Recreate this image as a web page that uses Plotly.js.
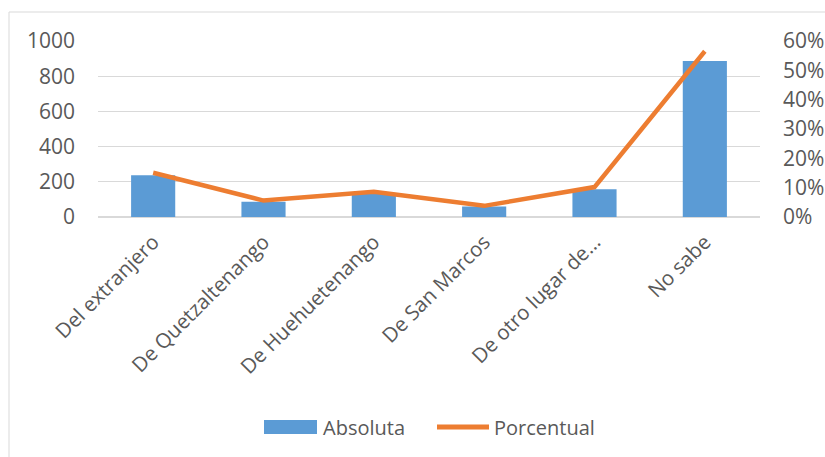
<!DOCTYPE html>
<html>
<head>
<meta charset="utf-8">
<script src="https://cdn.plot.ly/plotly-3.0.1.min.js"></script>
<style>html,body{margin:0;padding:0;background:#fff;}#chart{width:825px;height:457px;}</style>
</head>
<body>
<div id="chart"></div>
<script>
const categories = ["Del extranjero", "De Quetzaltenango", "De Huehuetenango", "De San Marcos", "De otro lugar de…", "No sabe"];
const absoluta = [237, 87, 135, 59, 157, 886];
const porcentual = [0.151, 0.056, 0.086, 0.038, 0.102, 0.565];
const seriesNames = ["Absoluta", "Porcentual"];
const leftTicks = [0, 200, 400, 600, 800, 1000];
const rightTicks = [0, 0.1, 0.2, 0.3, 0.4, 0.5, 0.6];

const font = "'Open Sans', 'DejaVu Sans', sans-serif";
const textColor = "#595959";
const blue = "#5b9bd5", orange = "#ed7d31";

const traces = [
  {
    type: "bar", name: seriesNames[0], x: categories, y: absoluta,
    marker: {color: blue}, width: 0.4, yaxis: "y"
  },
  {
    type: "scatter", mode: "lines", name: seriesNames[1], x: categories, y: porcentual,
    line: {color: orange, width: 4.5}, yaxis: "y2"
  }
];

const L = 98, R = 760, T = 41, B = 217;
const pw = R - L, ph = B - T;
const px = v => (v - L) / pw;
const py = v => (B - v) / ph;

const layout = {
  width: 825, height: 457,
  margin: {l: L, r: 825 - R, t: T, b: 457 - B, pad: 0},
  paper_bgcolor: "#fff", plot_bgcolor: "#fff",
  font: {family: font, color: textColor, size: 20},
  showlegend: false,
  xaxis: {
    type: "category", tickangle: -45, showgrid: false, zeroline: false,
    showline: false, ticks: "", ticklabelstandoff: 8,
    tickfont: {size: 20.5, color: textColor}
  },
  yaxis: {
    range: [0, 1000], tickvals: leftTicks,
    showgrid: true, gridcolor: "#d9d9d9", gridwidth: 1.3,
    zeroline: true, zerolinecolor: "#d9d9d9", zerolinewidth: 1.3,
    showline: false, ticks: "", ticklabelstandoff: 22,
    tickfont: {size: 21, color: textColor}
  },
  yaxis2: {
    overlaying: "y", side: "right", range: [0, 0.6],
    tickvals: rightTicks, tickformat: ".0%",
    showgrid: false, zeroline: false, showline: false, ticks: "",
    ticklabelstandoff: 22, tickfont: {size: 21, color: textColor}
  },
  shapes: [
    {
      type: "rect", xref: "paper", yref: "paper",
      x0: px(9), x1: px(840), y0: py(470), y1: py(12),
      line: {color: "#d9d9d9", width: 1}, fillcolor: "rgba(0,0,0,0)", layer: "below"
    },
    {
      type: "rect", xref: "paper", yref: "paper",
      x0: px(264), x1: px(317), y0: py(434), y1: py(420),
      line: {width: 0}, fillcolor: blue
    },
    {
      type: "line", xref: "paper", yref: "paper",
      x0: px(437), x1: px(489), y0: py(427), y1: py(427),
      line: {color: orange, width: 5}
    }
  ],
  annotations: [
    {
      xref: "paper", yref: "paper", x: px(321), y: py(427), xanchor: "left", yanchor: "middle",
      text: seriesNames[0], showarrow: false, font: {size: 20, color: textColor, family: font}
    },
    {
      xref: "paper", yref: "paper", x: px(492), y: py(427), xanchor: "left", yanchor: "middle",
      text: seriesNames[1], showarrow: false, font: {size: 20, color: textColor, family: font}
    }
  ]
};

Plotly.newPlot("chart", traces, layout, {displayModeBar: false, staticPlot: true});
</script>
</body>
</html>
